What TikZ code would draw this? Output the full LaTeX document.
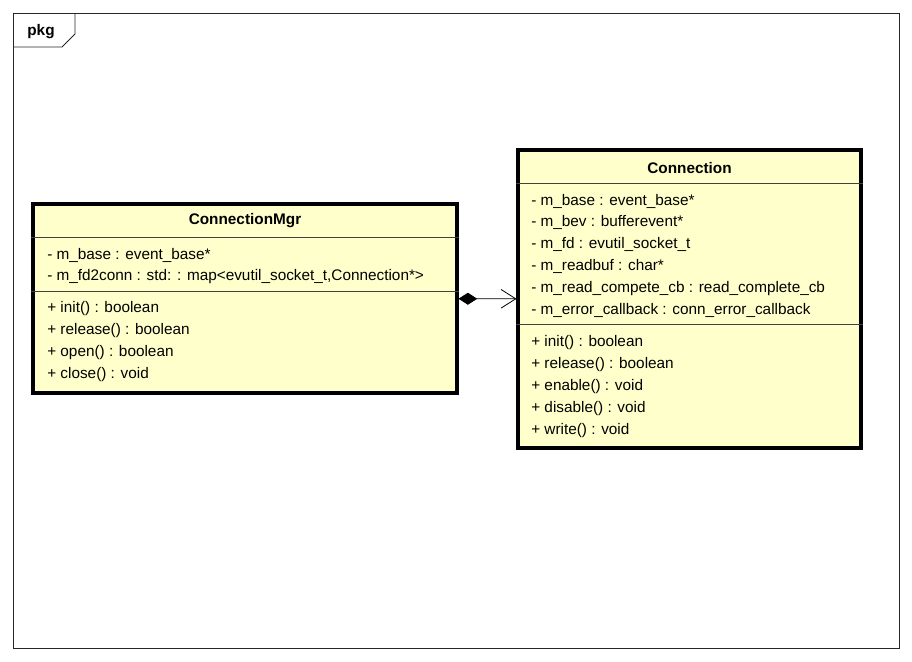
\documentclass[tikz,border=0pt]{standalone}
\usepackage{fontspec}
\setmainfont{Liberation Sans}
\usetikzlibrary{arrows.meta, fit, positioning}
\definecolor{umlfill}{HTML}{FFFFCC}
\tikzset{
  % riquadro di una classe
  classbox/.style={draw=black, line width=2.3pt, fill=umlfill, inner sep=0pt},
  classname/.style={font=\fontsize{11.5}{13}\selectfont\bfseries, inner sep=0pt},
  member/.style={anchor=west, inner sep=0pt, font=\fontsize{11.5}{13}\selectfont},
  % linee interne del riquadro
  sepline/.style={line width=0.6pt, black!75},
  pkgframe/.style={draw=black!85, line width=0.6pt},
  % composizione
  compos/.style={{Diamond[length=14pt,width=9pt]}-{Straight Barb[length=11pt,width=14pt]},
    line width=0.6pt},
}
\begin{document}
\begin{tikzpicture}[x=0.75pt, y=-0.75pt]
  \useasboundingbox (0,0) rectangle (912,661);
  % cornice del package
  \draw[pkgframe] (13,13) rectangle (899,648);
  \draw[pkgframe] (13,47) -- (62,47) -- (75,34) -- (75,13);
  \node[font=\fontsize{11.5}{13}\selectfont\bfseries] (pkg) at (41,32) {pkg};

  % ConnectionMgr
  \node[classbox, fit={(33,204) (457,393)}] (mgr) {};
  \node[classname] (mgrname) at (mgr.north |- 0,221) {ConnectionMgr};
  \draw[sepline] (mgr.west |- 0,237) -- (mgr.east |- 0,237);
  \draw[sepline] (mgr.west |- 0,291) -- (mgr.east |- 0,291);
  \foreach \txt [count=\i] in {- m\_base : event\_base*,
      {- m\_fd2conn : std: : map<evutil\_socket\_t,Connection*>}}
    \node[member] (mgra\i) at (47,255+21.5*\i-21.5) {\txt};
  \foreach \txt [count=\i] in {+ init() : boolean, + release() : boolean,
      + open() : boolean, + close() : void}
    \node[member] (mgrm\i) at (47,309+22*\i-22) {\txt};

  % Connection
  \node[classbox, fit={(518,150) (861,448)}] (conn) {};
  \node[classname] (connname) at (conn.north |- 0,168) {Connection};
  \draw[sepline] (conn.west |- 0,183) -- (conn.east |- 0,183);
  \draw[sepline] (conn.west |- 0,324) -- (conn.east |- 0,324);
  \foreach \txt [count=\i] in {- m\_base : event\_base*, - m\_bev : bufferevent*,
      - m\_fd : evutil\_socket\_t, - m\_readbuf : char*,
      - m\_read\_compete\_cb : read\_complete\_cb,
      - m\_error\_callback : conn\_error\_callback}
    \node[member] (conna\i) at (531,201+21.8*\i-21.8) {\txt};
  \foreach \txt [count=\i] in {+ init() : boolean, + release() : boolean,
      + enable() : void, + disable() : void, + write() : void}
    \node[member] (connm\i) at (531,343+21.8*\i-21.8) {\txt};

  \draw[compos] (mgr) -- (conn);
\end{tikzpicture}
\end{document}
